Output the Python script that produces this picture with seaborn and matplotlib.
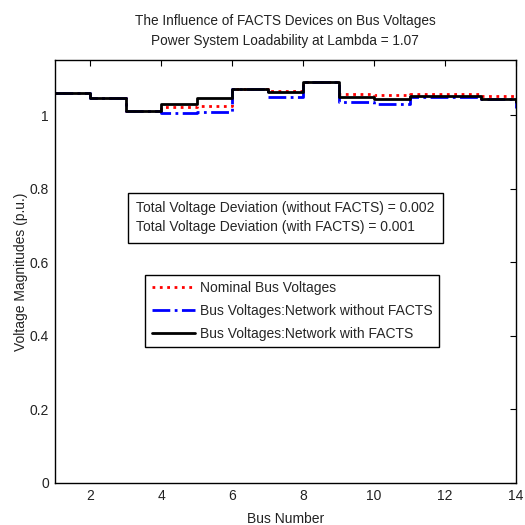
import numpy as np
import pandas as pd
import matplotlib
matplotlib.use("Agg")
import matplotlib.pyplot as plt
import seaborn as sns

bus = list(range(1, 15))
v_nominal = [1.060, 1.045, 1.010, 1.022, 1.025, 1.070, 1.066, 1.090, 1.057, 1.054, 1.058, 1.058, 1.051, 1.036]
v_without = [1.060, 1.045, 1.010, 1.005, 1.007, 1.070, 1.048, 1.090, 1.036, 1.031, 1.048, 1.048, 1.043, 1.020]
v_with = [1.060, 1.045, 1.010, 1.030, 1.045, 1.070, 1.062, 1.090, 1.048, 1.043, 1.052, 1.052, 1.043, 1.036]

labels = ["Nominal Bus Voltages",
          "Bus Voltages:Network without FACTS",
          "Bus Voltages:Network with FACTS"]
xticks = [2, 4, 6, 8, 10, 12, 14]
yticks = [0, 0.2, 0.4, 0.6, 0.8, 1.0]
ytick_labels = ["0", "0.2", "0.4", "0.6", "0.8", "1"]
title = "The Influence of FACTS Devices on Bus Voltages\nPower System Loadability at Lambda = 1.07"
info = "Total Voltage Deviation (without FACTS) = 0.002\nTotal Voltage Deviation (with FACTS) = 0.001"

sns.set_style("white")
plt.rcParams["font.family"] = ["Liberation Sans", "DejaVu Sans"]

fig = plt.figure(figsize=(5.25, 5.25), dpi=100)
ax = fig.add_axes([0.104, 0.08, 0.879, 0.806])

df = pd.DataFrame({"bus": bus, "nom": v_nominal, "wo": v_without, "w": v_with})
sns.lineplot(data=df, x="bus", y="nom", ax=ax, color="red", linestyle=":", linewidth=2,
             drawstyle="steps-post", label=labels[0])
sns.lineplot(data=df, x="bus", y="wo", ax=ax, color="blue", linestyle="-.", linewidth=2,
             drawstyle="steps-post", label=labels[1])
sns.lineplot(data=df, x="bus", y="w", ax=ax, color="black", linestyle="-", linewidth=2,
             drawstyle="steps-post", label=labels[2])

ax.set_xlim(1, 14)
ax.set_ylim(0, 1.15)
ax.set_xticks(xticks)
ax.set_xticklabels([str(t) for t in xticks], fontsize=10)
ax.set_yticks(yticks)
ax.set_yticklabels(ytick_labels, fontsize=10)
ax.tick_params(direction="in", length=4, top=True, right=True, width=0.8, colors="black", pad=4)
ax.tick_params(axis="both", labelcolor="#222222")
for s in ax.spines.values():
    s.set_color("black")
    s.set_linewidth(1)

ax.set_xlabel("Bus Number", fontsize=10, labelpad=7, color="#222222")
ax.set_ylabel("Voltage Magnitudes (p.u.)", fontsize=10, labelpad=1, color="#222222")
ax.set_title(title, fontsize=9.8, color="#222222", pad=11, linespacing=1.55)

fig.text(0.259, 0.585, info, fontsize=10, va="center", ha="left", linespacing=1.45,
         bbox=dict(boxstyle="square,pad=0.6", facecolor="white", edgecolor="black", linewidth=1))

leg = ax.legend(loc="center", bbox_to_anchor=(0.515, 0.407), fontsize=10, frameon=True,
                fancybox=False, edgecolor="black", framealpha=1, handlelength=3.1,
                borderpad=0.45, labelspacing=0.65, handletextpad=0.4)
leg.get_frame().set_linewidth(1)

fig.savefig("out.png", dpi=100)
